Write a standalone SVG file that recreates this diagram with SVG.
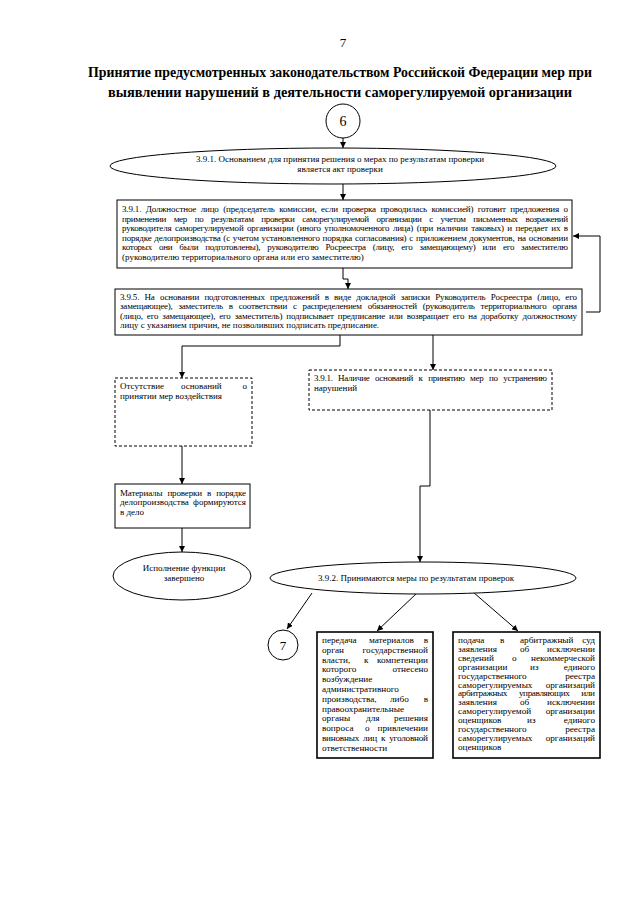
<svg xmlns="http://www.w3.org/2000/svg" width="640" height="905" viewBox="0 0 640 905">
<style>
.t{font-family:"Liberation Serif","Times New Roman",serif;font-size:9px;fill:#000}
.s{font-family:"Liberation Serif","Times New Roman",serif;font-size:9.2px;fill:#000}
.e{text-anchor:end}
.m{text-anchor:middle}
.title{font-family:"Liberation Serif","Times New Roman",serif;font-size:14.5px;font-weight:bold;fill:#000}
.box{fill:#fff;stroke:#000;stroke-width:1}
.dash{fill:#fff;stroke:#000;stroke-width:1;stroke-dasharray:3,2}
.heavy{fill:#fff;stroke:#000;stroke-width:1.6}
.c{fill:none;stroke:#000;stroke-width:1}
</style>
<defs>
<marker id="ar" viewBox="0 0 10 10" refX="10" refY="5" markerWidth="6" markerHeight="6" orient="auto" markerUnits="userSpaceOnUse">
<path d="M0,0 L10,5 L0,10 z" fill="#000"/>
</marker>
</defs>
<rect width="640" height="905" fill="#fff"/>
<text x="343" y="47" class="m" style="font-family:'Liberation Serif',serif;font-size:13px">7</text>
<text x="88" y="77" class="title" textLength="504" lengthAdjust="spacingAndGlyphs">Принятие предусмотренных законодательством Российской Федерации мер при</text>
<text x="108" y="97" class="title" textLength="464" lengthAdjust="spacingAndGlyphs">выявлении нарушений в деятельности саморегулируемой организации</text>

<g id="connectors">
<path class="c" d="M343,138 L343,148" marker-end="url(#ar)"/>
<path class="c" d="M343,184 L343,200" marker-end="url(#ar)"/>
<path class="c" d="M343,268 L343,279 L348,279 L348,289" marker-end="url(#ar)"/>
<path class="c" d="M586,312 L600,312 L600,236 L573,236" marker-end="url(#ar)"/>
<path class="c" d="M340,335 L340,346 L182,346 L182,378" marker-end="url(#ar)"/>
<path class="c" d="M433,335 L433,370" marker-end="url(#ar)"/>
<path class="c" d="M182,446 L182,484" marker-end="url(#ar)"/>
<path class="c" d="M182,528 L182,552" marker-end="url(#ar)"/>
<path class="c" d="M430,410 L430,486 L420,486 L420,562" marker-end="url(#ar)"/>
<path class="c" d="M312,593 L287,629" marker-end="url(#ar)"/>
<path class="c" d="M417,593 L377,631" marker-end="url(#ar)"/>
<path class="c" d="M473,592 L518,631" marker-end="url(#ar)"/>
</g>

<g id="node-6">
<circle cx="343" cy="121" r="17" class="box"/>
<text x="343" y="126" class="m" style="font-family:'Liberation Serif',serif;font-size:14px">6</text>
</g>

<g id="node-basis">
<ellipse cx="333" cy="166" rx="223" ry="18" class="box"/>
<text x="340" y="162" class="t m">3.9.1. Основанием для принятия решения о мерах по результатам проверки</text>
<text x="340" y="172" class="t m">является акт проверки</text>
</g>

<g id="node-official">
<rect x="117" y="200" width="455" height="68" class="box"/>
<text x="122" y="212" class="t" textLength="446" lengthAdjust="spacing" word-spacing="2.4">3.9.1. Должностное лицо (председатель комиссии, если проверка проводилась комиссией) готовит предложения о</text>
<text x="122" y="221.5" class="t" textLength="446" lengthAdjust="spacing" word-spacing="5.8">применении мер по результатам проверки саморегулируемой организации с учетом письменных возражений</text>
<text x="122" y="231" class="t" textLength="446" lengthAdjust="spacing" word-spacing="1.5">руководителя саморегулируемой организации (иного уполномоченного лица) (при наличии таковых) и передает их в</text>
<text x="122" y="240.5" class="t" textLength="446" lengthAdjust="spacing" word-spacing="0.8">порядке делопроизводства (с учетом установленного порядка согласования) с приложением документов, на основании</text>
<text x="122" y="250" class="t" textLength="446" lengthAdjust="spacing" word-spacing="5">которых они были подготовлены), руководителю Росреестра (лицу, его замещающему) или его заместителю</text>
<text x="122" y="259.5" class="t">(руководителю территориального органа или его заместителю)</text>
</g>

<g id="node-sign">
<rect x="115" y="289" width="467" height="46" class="box"/>
<text x="120" y="299.5" class="t" textLength="457" lengthAdjust="spacing" word-spacing="3.2">3.9.5. На основании подготовленных предложений в виде докладной записки Руководитель Росреестра (лицо, его</text>
<text x="120" y="309" class="t" textLength="457" lengthAdjust="spacing" word-spacing="3.8">замещающее), заместитель в соответствии с распределением обязанностей (руководитель территориального органа</text>
<text x="120" y="318.5" class="t" textLength="457" lengthAdjust="spacing" word-spacing="2">(лицо, его замещающее), его заместитель) подписывает предписание или возвращает его на доработку должностному</text>
<text x="120" y="328" class="t">лицу с указанием причин, не позволивших подписать предписание.</text>
</g>

<g id="node-no-grounds">
<rect x="115" y="378" width="137" height="68" class="dash"/>
<text x="120" y="389" class="t">Отсутствие</text>
<text x="181" y="389" class="t">оснований</text>
<text x="247" y="389" class="t e">о</text>
<text x="120" y="398.5" class="t">принятии мер воздействия</text>
</g>

<g id="node-grounds">
<rect x="309" y="370" width="243" height="40" class="dash"/>
<text x="314" y="381" class="t" textLength="233" lengthAdjust="spacing" word-spacing="3.5">3.9.1. Наличие оснований к принятию мер по устранению</text>
<text x="314" y="390.5" class="t">нарушений</text>
</g>

<g id="node-materials">
<rect x="115" y="484" width="135" height="44" class="box"/>
<text x="120" y="495.5" class="t" textLength="126" lengthAdjust="spacing" word-spacing="3">Материалы проверки в порядке</text>
<text x="120" y="505" class="t" textLength="126" lengthAdjust="spacing" word-spacing="2">делопроизводства формируются</text>
<text x="120" y="514.5" class="t">в дело</text>
</g>

<g id="node-end">
<ellipse cx="182" cy="576" rx="69" ry="24" class="box"/>
<text x="184" y="571" class="t m">Исполнение функции</text>
<text x="184" y="580.5" class="t m">завершено</text>
</g>

<g id="node-measures">
<ellipse cx="423" cy="578" rx="153" ry="16" class="box"/>
<text x="416" y="581" class="t m">3.9.2. Принимаются меры по результатам проверок</text>
</g>

<g id="node-7">
<circle cx="283" cy="645" r="15" class="box"/>
<text x="283" y="650" class="m" style="font-family:'Liberation Serif',serif;font-size:13px">7</text>
</g>

<g id="node-transfer">
<rect x="317" y="632" width="116" height="126" class="heavy"/>
<text x="322" y="643" class="s">передача</text><text x="369" y="643" class="s">материалов</text><text x="428" y="643" class="s e">в</text>
<text x="322" y="652.8" class="s">орган</text><text x="428" y="652.8" class="s e">государственной</text>
<text x="322" y="662.6" class="s">власти,</text><text x="364" y="662.6" class="s">к</text><text x="428" y="662.6" class="s e">компетенции</text>
<text x="322" y="672.4" class="s">которого</text><text x="428" y="672.4" class="s e">отнесено</text>
<text x="322" y="682.2" class="s">возбуждение</text>
<text x="322" y="692" class="s">административного</text>
<text x="322" y="701.8" class="s">производства,</text><text x="390" y="701.8" class="s">либо</text><text x="428" y="701.8" class="s e">в</text>
<text x="322" y="711.6" class="s">правоохранительные</text>
<text x="322" y="721.4" class="s">органы</text><text x="366" y="721.4" class="s">для</text><text x="428" y="721.4" class="s e">решения</text>
<text x="322" y="731.2" class="s">вопроса</text><text x="365" y="731.2" class="s">о</text><text x="428" y="731.2" class="s e">привлечении</text>
<text x="322" y="741" class="s" textLength="106" lengthAdjust="spacing" word-spacing="2">виновных лиц к уголовной</text>
<text x="322" y="750.8" class="s">ответственности</text>
</g>

<g id="node-court">
<rect x="453" y="632" width="147" height="126" class="heavy"/>
<text x="458" y="643" class="s">подача</text><text x="500" y="643" class="s">в</text><text x="520" y="643" class="s">арбитражный</text><text x="595" y="643" class="s e">суд</text>
<text x="458" y="651.9" class="s">заявления</text><text x="520" y="651.9" class="s">об</text><text x="595" y="651.9" class="s e">исключении</text>
<text x="458" y="660.8" class="s">сведений</text><text x="512" y="660.8" class="s">о</text><text x="595" y="660.8" class="s e">некоммерческой</text>
<text x="458" y="669.7" class="s">организации</text><text x="530" y="669.7" class="s">из</text><text x="595" y="669.7" class="s e">единого</text>
<text x="458" y="678.6" class="s">государственного</text><text x="595" y="678.6" class="s e">реестра</text>
<text x="458" y="687.5" class="s">саморегулируемых</text><text x="595" y="687.5" class="s e">организаций</text>
<text x="458" y="696.4" class="s" textLength="137" lengthAdjust="spacing" word-spacing="10">арбитражных управляющих или</text>
<text x="458" y="705.3" class="s">заявления</text><text x="520" y="705.3" class="s">об</text><text x="595" y="705.3" class="s e">исключении</text>
<text x="458" y="714.2" class="s">саморегулируемой</text><text x="595" y="714.2" class="s e">организации</text>
<text x="458" y="723.1" class="s">оценщиков</text><text x="527" y="723.1" class="s">из</text><text x="595" y="723.1" class="s e">единого</text>
<text x="458" y="732" class="s">государственного</text><text x="595" y="732" class="s e">реестра</text>
<text x="458" y="740.9" class="s">саморегулируемых</text><text x="595" y="740.9" class="s e">организаций</text>
<text x="458" y="749.8" class="s">оценщиков</text>
</g>
</svg>
